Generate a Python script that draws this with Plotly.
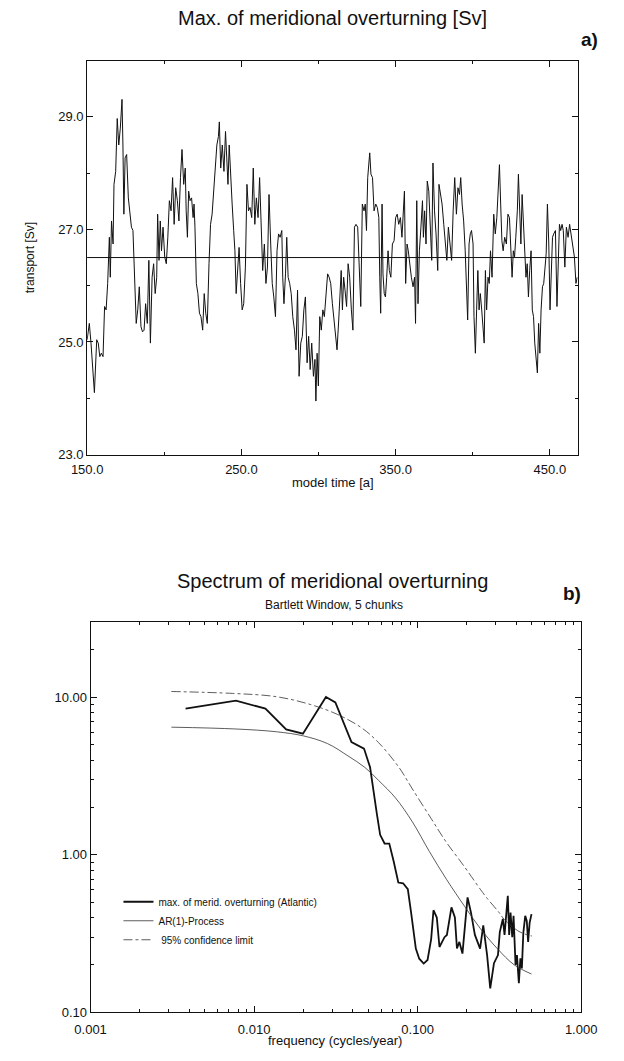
import plotly.graph_objects as go

# ---------------- panel a) : time series ----------------
years = [150.0, 151.4, 152.5, 153.5, 154.7, 156.2, 157.2, 158.2, 159.2, 160.3, 161.3, 162.3, 163.3, 164.4, 165.0,
         165.8, 166.8, 167.4, 168.5, 169.5, 170.5, 171.5, 172.6, 173.2, 173.8, 174.6, 175.6, 176.7, 177.7, 178.7,
         179.7, 180.8, 181.8, 182.8, 183.8, 184.9, 185.9, 186.9, 187.9, 189.0, 190.0, 191.0, 192.1, 193.1, 194.1,
         195.1, 195.7, 196.6, 197.4, 198.2, 199.2, 200.3, 201.3, 202.3, 203.3, 204.4, 205.4, 206.4, 207.4, 208.5,
         209.5, 210.5, 211.5, 212.6, 213.6, 214.2, 215.0, 215.8, 216.7, 217.7, 218.7, 219.3, 219.9, 220.8, 221.8,
         222.8, 223.8, 224.9, 225.9, 226.9, 227.9, 229.0, 230.0, 231.0, 232.1, 233.1, 234.1, 235.1, 235.7, 236.6,
         237.6, 238.7, 239.7, 240.5, 241.3, 242.1, 242.9, 244.0, 245.0, 245.8, 246.6, 247.4, 248.5, 249.5, 250.5,
         251.5, 252.6, 253.6, 254.6, 255.6, 256.7, 257.7, 258.7, 259.7, 260.8, 261.8, 262.8, 263.8, 264.9, 265.9,
         266.9, 267.9, 269.0, 270.0, 271.0, 272.1, 273.1, 274.1, 275.1, 276.2, 276.8, 277.6, 278.6, 279.4, 280.3,
         281.3, 282.3, 283.3, 284.4, 285.4, 286.4, 287.4, 288.5, 289.5, 290.5, 291.5, 292.6, 293.6, 294.6, 295.6,
         296.7, 297.7, 298.3, 299.1, 299.9, 300.8, 301.8, 302.8, 303.8, 304.9, 305.9,
         306.9, 307.9, 309.0, 310.0, 311.0, 312.0, 313.1, 314.1, 314.7, 315.5, 316.3, 317.2, 318.2, 319.2, 320.2,
         321.3, 322.3, 323.3, 324.3, 325.4, 326.4, 327.4, 328.4, 329.5, 330.3, 331.1, 331.9, 333.2, 334.0, 335.0,
         336.0, 337.1, 338.1, 339.1, 339.7, 340.3, 341.2, 341.8, 342.6, 343.4, 344.2, 345.1, 345.9, 346.9, 347.9,
         349.0, 350.0, 351.0, 352.0, 353.1, 354.1, 355.1, 355.7, 356.5, 357.4, 358.2, 359.2, 360.2, 361.3, 362.3,
         362.9, 363.7, 364.5, 365.4, 366.4, 367.4, 368.0, 368.8, 369.7, 370.5, 371.5, 372.5, 373.4, 374.2, 375.2,
         376.2, 377.3, 378.1, 379.1, 380.1, 381.2, 382.2, 383.2, 384.2, 385.3, 386.3, 387.3, 388.3, 389.4, 390.4,
         391.4, 392.2, 393.1, 394.1, 395.1, 396.1, 396.7, 397.6, 398.4, 399.2, 400.2, 400.8, 401.7, 402.5, 403.3,
         404.1, 404.9, 405.8, 406.8, 407.4, 408.2, 409.0, 409.9, 410.7, 411.5, 412.5, 413.6, 414.6, 415.6, 416.6,
         417.3, 418.1, 418.9, 419.7, 420.7, 421.8, 422.8, 423.8, 424.8, 425.5, 426.3, 427.1, 427.9, 428.9, 429.6,
         430.4, 431.2, 432.0, 432.9, 433.7, 434.5, 435.3, 436.1, 436.9, 437.8, 438.6, 439.4, 440.2, 441.1, 441.9,
         442.7, 443.5, 444.3, 445.2, 446.0, 446.8, 447.6, 448.4, 449.3, 450.1, 450.9, 451.7, 452.5, 453.6, 454.6,
         455.4, 456.2, 457.0, 457.9, 458.7, 459.7, 460.7, 461.8, 462.8, 463.8, 464.8, 465.9, 466.9, 467.7]

transport = [25.04, 25.33, 24.98, 24.57, 24.10, 25.04, 24.98, 24.74, 24.80, 24.74, 25.63, 25.57, 26.04, 26.86, 26.15,
             27.15, 26.74, 27.80, 28.03, 28.97, 28.50, 28.80, 29.31, 28.50, 27.27, 28.27, 28.33, 27.56, 27.33, 27.04,
             26.98, 26.04, 25.33, 25.57, 25.98, 25.27, 25.18, 25.21, 25.68, 25.33, 26.45, 24.98, 26.15, 26.39, 25.86,
             26.15, 27.27, 26.45, 27.15, 26.62, 27.04, 26.51, 26.39, 26.86, 27.51, 27.33, 27.92, 27.09, 27.74, 27.51,
             27.15, 27.92, 28.42, 27.80, 28.09, 27.33, 26.86, 27.68, 27.51, 27.56, 27.21, 27.45, 27.04, 26.04, 25.86,
             25.51, 25.45, 25.21, 25.86, 25.51, 25.33, 26.39, 27.09, 27.27, 27.68, 28.09, 28.50, 28.65, 28.91, 28.09,
             28.50, 28.03, 28.74, 28.27, 27.80, 28.50, 27.92, 27.45, 26.98, 26.62, 25.86, 26.27, 26.68, 26.04, 25.57,
             25.68, 26.33, 27.80, 27.33, 27.39, 27.21, 28.09, 27.09, 27.56, 27.21, 27.92, 26.98, 26.27, 26.74, 26.04,
             26.33, 27.62, 26.74, 26.04, 25.80, 25.45, 26.62, 26.92, 26.86, 26.98, 26.15, 25.68, 26.21, 26.86, 26.15,
             26.04, 25.86, 25.45, 25.21, 24.86, 25.92, 24.39, 24.98, 25.10, 25.57, 25.80, 24.63, 25.10, 24.51, 24.98,
             24.39, 24.69, 23.95, 24.80, 24.22, 25.45, 25.21, 25.57, 25.45, 25.92, 26.21,
             26.15, 26.04, 25.68, 25.39, 25.16, 24.86, 25.39, 25.86, 26.27, 25.57, 26.15, 25.92, 25.63, 26.39, 26.15,
             25.57, 25.21, 27.04, 27.09, 27.04, 26.27, 25.63, 27.45, 27.33, 27.45, 26.98, 27.92, 28.36, 27.98, 27.92,
             27.33, 27.45, 27.39, 27.21, 26.15, 25.51, 27.45, 26.21, 25.86, 25.80, 26.15, 26.62, 26.27, 26.15, 26.74,
             26.80, 27.21, 27.27, 27.09, 27.21, 26.86, 27.33, 27.68, 26.04, 26.74, 26.62, 26.33, 26.15, 25.98, 26.15,
             25.33, 27.51, 25.68, 26.62, 27.04, 27.51, 26.86, 27.33, 26.74, 27.86, 27.68, 27.09, 26.45, 28.18, 27.33,
             26.92, 26.27, 27.80, 27.62, 27.45, 27.09, 26.80, 26.45, 27.04, 26.74, 26.45, 27.33, 27.92, 27.27, 27.74,
             27.62, 27.92, 27.45, 27.15, 26.62, 25.68, 25.39, 26.74, 26.92, 26.98, 26.74, 25.45, 24.80, 25.57, 26.27,
             25.57, 25.86, 25.57, 25.21, 24.98, 26.27, 25.57, 26.15, 26.04, 26.62, 26.15, 27.27, 26.92, 27.21, 27.68,
             28.15, 27.45, 26.80, 26.62, 26.86, 26.74, 27.27, 27.21, 26.62, 26.15, 26.62, 26.51, 26.86, 27.33, 27.98,
             27.21, 26.74, 27.62, 27.09, 26.62, 26.15, 26.39, 25.80, 26.27, 26.62, 25.57, 25.45, 24.98, 24.69, 24.45,
             25.33, 24.80, 25.57, 25.98, 26.04, 26.33, 26.57, 27.45, 26.74, 25.57, 26.15, 26.86, 26.92, 26.98, 25.63,
             26.39, 27.09, 26.98, 27.09, 26.98, 26.33, 27.04, 26.86, 27.09, 26.92, 26.74, 26.51, 26.04, 26.15]

mean_transport = 26.5

# ---------------- panel b) : spectrum ----------------
freq_obs = [0.00381, 0.00774, 0.01173, 0.0157, 0.0199, 0.0275, 0.0314, 0.0394, 0.0470, 0.0512, 0.0563, 0.0590,
            0.0628, 0.0671, 0.0714, 0.0762, 0.0815, 0.0871, 0.0912, 0.0975, 0.1023, 0.1089, 0.115, 0.121, 0.125,
            0.131, 0.136, 0.146, 0.151, 0.161, 0.169, 0.174, 0.180, 0.188, 0.202, 0.212, 0.224, 0.241, 0.252,
            0.266, 0.278, 0.293, 0.310, 0.318, 0.332, 0.340, 0.356, 0.363, 0.370, 0.379, 0.386, 0.397, 0.405,
            0.416, 0.425, 0.434, 0.443, 0.455, 0.465, 0.474, 0.484, 0.497]
power_obs = [8.49, 9.53, 8.49, 6.26, 5.88, 10.05, 9.30, 5.21, 4.73, 3.60, 1.83, 1.34,
             1.18, 1.18, 0.908, 0.667, 0.660, 0.605, 0.432, 0.254, 0.219, 0.204, 0.215, 0.292, 0.445,
             0.40, 0.26, 0.30, 0.31, 0.464, 0.40, 0.254, 0.28, 0.236, 0.537, 0.43, 0.31, 0.254, 0.356,
             0.231, 0.142, 0.205, 0.231, 0.323, 0.392, 0.31, 0.55, 0.31, 0.43, 0.30, 0.41, 0.20, 0.231,
             0.153, 0.22, 0.19, 0.32, 0.41, 0.38, 0.28, 0.37, 0.42]

freq_ar1 = [0.00312, 0.00774, 0.0137, 0.0201, 0.0281, 0.0375, 0.0476, 0.0577, 0.0732, 0.0929, 0.118,
            0.150, 0.194, 0.242, 0.308, 0.390, 0.497]
power_ar1 = [6.47, 6.30, 6.05, 5.69, 5.09, 4.25, 3.59, 2.97, 2.30, 1.62, 1.05,
             0.70, 0.47, 0.34, 0.253, 0.200, 0.175]

freq_conf = [0.00312, 0.00738, 0.0137, 0.0222, 0.0325, 0.0454, 0.0577, 0.0768, 0.0929, 0.121, 0.150, 0.180,
             0.200, 0.243, 0.266, 0.315, 0.338, 0.409, 0.450, 0.500]
power_conf = [10.9, 10.6, 10.1, 9.0, 7.78, 6.41, 5.16, 3.60, 2.62, 1.70, 1.20, 0.93,
              0.80, 0.60, 0.53, 0.43, 0.39, 0.33, 0.315, 0.305]

W, H = 624, 1061
FONT = "Liberation Sans, Arial, Helvetica, sans-serif"
INK = "#111111"


def px(x):
    return x / W


def py(y):
    return 1 - y / H


fig = go.Figure()
fig.add_trace(go.Scatter(x=years, y=transport, mode="lines", line=dict(color=INK, width=1),
                         xaxis="x", yaxis="y", showlegend=False))
fig.add_shape(type="line", xref="x domain", x0=0, x1=1, yref="y", y0=mean_transport, y1=mean_transport,
              line=dict(color=INK, width=1))

fig.add_trace(go.Scatter(x=freq_obs, y=power_obs, mode="lines", line=dict(color=INK, width=1.8),
                         xaxis="x2", yaxis="y2", name="max. of merid. overturning (Atlantic)"))
fig.add_trace(go.Scatter(x=freq_ar1, y=power_ar1, mode="lines", line=dict(color="#333333", width=0.8),
                         xaxis="x2", yaxis="y2", name="AR(1)-Process", line_shape="spline"))
fig.add_trace(go.Scatter(x=freq_conf, y=power_conf, mode="lines",
                         line=dict(color="#333333", width=0.8, dash="dashdot"),
                         xaxis="x2", yaxis="y2", name=" 95% confidence limit", line_shape="spline"))

common = dict(showline=True, linecolor=INK, linewidth=1, mirror="allticks", ticks="inside",
              ticklen=6, tickcolor=INK, tickwidth=1, showgrid=False, zeroline=False,
              tickfont=dict(family=FONT, size=13, color=INK))

fig.update_layout(
    width=W, height=H, margin=dict(l=0, r=0, t=0, b=0),
    paper_bgcolor="white", plot_bgcolor="white",
    font=dict(family=FONT, color=INK),
    xaxis=dict(domain=[px(75), px(592)], range=[150, 468], anchor="y", tickmode="linear", tick0=150,
               dtick=100, tickformat=".1f", ticklabelstandoff=3,
               minor=dict(tickmode="linear", tick0=150, dtick=50, ticks="inside", ticklen=3, tickcolor=INK),
               **common),
    yaxis=dict(domain=[py(458), py(61)], range=[23, 30], anchor="x", tickmode="linear", tick0=23, dtick=2,
               tickformat=".1f",
               minor=dict(tickmode="linear", tick0=23, dtick=1, ticks="inside", ticklen=3, tickcolor=INK),
               **common),
    xaxis2=dict(type="log", domain=[px(78.6), px(595.7)], range=[-3, 0], anchor="y2", dtick=1,
                tickformat=".3f", ticklabelstandoff=5,
                minor=dict(ticks="inside", ticklen=3, tickcolor=INK, dtick="D1"),
                **common),
    yaxis2=dict(type="log", domain=[py(1020), py(627)], range=[-1, 1.4771], anchor="x2", dtick=1,
                tickformat=".2f", minor=dict(ticks="inside", ticklen=3, tickcolor=INK, dtick="D1"),
                **common),
    legend=dict(x=px(108), y=py(894), xanchor="left", yanchor="top", bgcolor="rgba(0,0,0,0)",
                font=dict(family=FONT, size=10, color=INK), tracegroupgap=0),
    showlegend=True,
)

ann = [
    dict(text="Max. of meridional overturning [Sv]", x=px(334), y=py(18), size=20, bold=False),
    dict(text="a)", x=px(604), y=py(40), size=19, bold=True),
    dict(text="transport [Sv]", x=px(15), y=py(260), size=12, bold=False, angle=-90),
    dict(text="model time [a]", x=px(334), y=py(486), size=13, bold=False),
    dict(text="Spectrum of meridional overturning", x=px(334), y=py(585), size=20, bold=False),
    dict(text="Bartlett Window, 5 chunks", x=px(335), y=py(610), size=12, bold=False),
    dict(text="b)", x=px(586), y=py(598), size=19, bold=True),
    dict(text="frequency (cycles/year)", x=px(336), y=py(1048), size=13, bold=False),
]
for a in ann:
    t = "<b>%s</b>" % a["text"] if a["bold"] else a["text"]
    fig.add_annotation(text=t, x=a["x"], y=a["y"], xref="paper", yref="paper", showarrow=False,
                       xanchor="center", yanchor="middle", textangle=a.get("angle", 0),
                       font=dict(family=FONT, size=a["size"], color=INK))

fig.write_html("out.html")
